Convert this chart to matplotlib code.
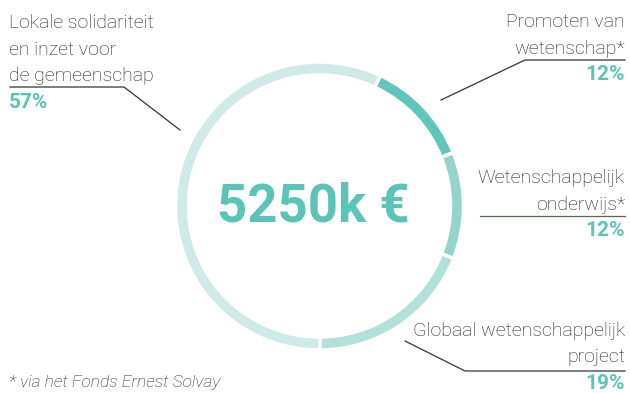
import matplotlib.pyplot as plt

# segments, clockwise from the top-right
labels = [['Promoten van', 'wetenschap*'],
          ['Wetenschappelijk', 'onderwijs*'],
          ['Globaal wetenschappelijk', 'project'],
          ['Lokale solidariteit', 'en inzet voor', 'de gemeenschap']]
values = [12, 12, 19, 57]
colors = ['#5fc6b9', '#95d4ca', '#b2e1da', '#d0ebe7']
total = '5250k €'
footnote = '* via het Fonds Ernest Solvay'

W, H = 630, 394
teal = '#5cc4b6'
txt = '#1e1e1e'
font = 'Roboto'
step = 26.5

fig = plt.figure(figsize=(W / 100, H / 100), dpi=100)
ax = fig.add_axes([0, 0, 1, 1])


def Y(y):
    return H - y


ax.pie(values, colors=colors, startangle=65, counterclock=False,
       center=(319.5, Y(206)), radius=144, frame=True,
       wedgeprops=dict(width=13, edgecolor='white', linewidth=2.5))
ax.set_xlim(0, W)
ax.set_ylim(0, H)
ax.set_aspect('equal')
ax.axis('off')

ax.text(313, Y(207), total, ha='center', va='center', fontsize=38,
        fontweight='bold', color=teal, family=font)


def label(x, y0, lines, pct, ha):
    # lines of the label on fixed baselines, percentage below
    for i, line in enumerate(lines):
        ax.text(x, Y(y0 + i * step), line, ha=ha, va='baseline', fontsize=14,
                color=txt, family=font, fontweight='light')
    ax.text(x, Y(y0 + len(lines) * step), f'{pct}%', ha=ha, va='baseline',
            fontsize=15, color=teal, family=font, fontweight='bold')


# Lokale solidariteit (left)
label(9, 28, labels[3], values[3], 'left')
ax.plot([10, 124, 180], [Y(87), Y(87), Y(130)], color='#333333', lw=0.9)

# Promoten van wetenschap (top right)
label(625, 27, labels[0], values[0], 'right')
ax.plot([625, 525, 441], [Y(60), Y(60), Y(100)], color='#333333', lw=0.9)

# Wetenschappelijk onderwijs (right)
label(625, 183, labels[1], values[1], 'right')
ax.plot([480, 625], [Y(216), Y(216)], color='#4d6b4d', lw=0.9)

# Globaal wetenschappelijk project (bottom right)
label(625, 336, labels[2], values[2], 'right')
ax.plot([405, 465, 625], [Y(341), Y(371), Y(371)], color='#333333', lw=0.9)

ax.text(9, Y(387), footnote, ha='left', va='baseline', fontsize=12.5, color=txt,
        family=font, fontweight='light', style='italic')

fig.savefig('out.png', dpi=100)
